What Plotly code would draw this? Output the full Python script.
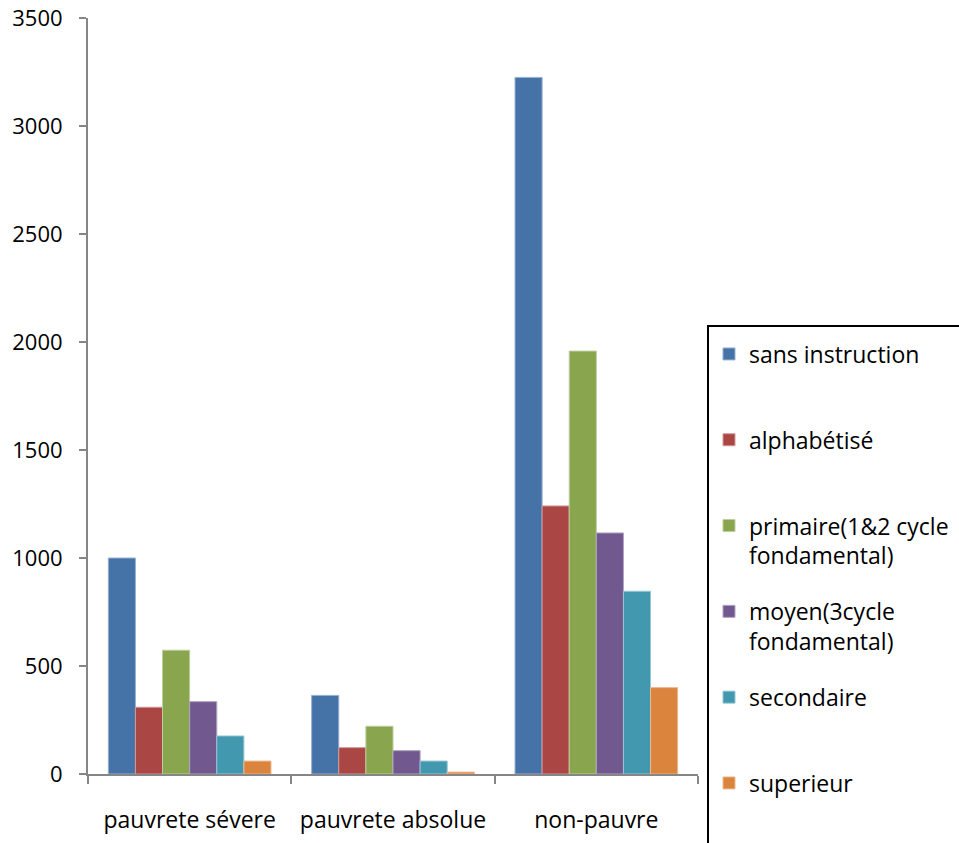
import plotly.graph_objects as go

# Poverty status groups (x axis)
categories = ["pauvrete sévere", "pauvrete absolue", "non-pauvre"]

# Level of education (one bar series each)
series_names = [
    "sans instruction",
    "alphabétisé",
    "primaire(1&2 cycle fondamental)",
    "moyen(3cycle fondamental)",
    "secondaire",
    "superieur",
]
sans_instruction = [1000, 364, 3225]
alphabetise = [309, 122, 1241]
primaire = [573, 221, 1958]
moyen = [335, 108, 1116]
secondaire = [176, 60, 846]
superieur = [60, 9, 400]

y_ticks = [0, 500, 1000, 1500, 2000, 2500, 3000, 3500]

values = [sans_instruction, alphabetise, primaire, moyen, secondaire, superieur]
colors = ["#4572A7", "#AA4643", "#89A54E", "#71588F", "#4198AF", "#DB843D"]

# legend text: every entry takes two lines so the entries stay evenly spaced
legend_text = [
    "sans instruction<br> ",
    "alphabétisé<br> ",
    "primaire(1&2 cycle<br>fondamental)",
    "moyen(3cycle<br>fondamental)",
    "secondaire<br> ",
    "superieur<br> ",
]


def tint(hex_color, amount):
    h = hex_color.lstrip("#")
    r, g, b = (int(h[i:i + 2], 16) for i in (0, 2, 4))
    r, g, b = (round(c + (255 - c) * amount) for c in (r, g, b))
    return f"rgb({r},{g},{b})"


FONT = "Open Sans"
AXIS_GREY = "#868686"

fig = go.Figure()
for name, label, vals, col in zip(series_names, legend_text, values, colors):
    fig.add_trace(
        go.Bar(
            x=categories,
            y=vals,
            name=label,
            legendgroup=name,
            marker=dict(color=col, line=dict(color=tint(col, 0.45), width=1)),
            hovertemplate=name + "<br>%{x}: %{y}<extra></extra>",
        )
    )

W, H = 959, 843
L, R, T, B = 88, 261, 18, 69
plot_w = W - L - R
plot_h = H - T - B

fig.update_layout(
    width=W,
    height=H,
    margin=dict(l=L, r=R, t=T, b=B, autoexpand=False),
    paper_bgcolor="white",
    plot_bgcolor="white",
    barmode="group",
    bargap=0.2,
    bargroupgap=0,
    font=dict(family=FONT, size=22, color="black"),
    showlegend=True,
    legend=dict(
        x=(709 - L) / plot_w,
        y=(H - B - 332.5) / plot_h,
        xanchor="left",
        yanchor="top",
        traceorder="grouped",
        tracegroupgap=23,
        valign="top",
        borderwidth=0,
        bgcolor="rgba(0,0,0,0)",
        font=dict(family=FONT, size=23, color="black"),
    ),
    xaxis=dict(
        type="category",
        showline=True,
        linecolor=AXIS_GREY,
        linewidth=2,
        ticks="outside",
        tickson="boundaries",
        ticklen=8,
        tickwidth=2,
        tickcolor=AXIS_GREY,
        showgrid=False,
        zeroline=False,
        ticklabelstandoff=24,
        tickfont=dict(family=FONT, size=23, color="black"),
    ),
    yaxis=dict(
        range=[0, 3500],
        tickvals=y_ticks,
        ticktext=[str(v) for v in y_ticks],
        showline=True,
        linecolor=AXIS_GREY,
        linewidth=2,
        ticks="outside",
        ticklen=7,
        tickwidth=2,
        tickcolor=AXIS_GREY,
        showgrid=False,
        zeroline=False,
        ticklabelstandoff=12,
        tickfont=dict(family=FONT, size=22, color="black"),
    ),
)

# legend frame, running past the right and bottom page edges
fig.add_shape(
    type="rect",
    xref="paper",
    yref="paper",
    x0=(708 - L) / plot_w,
    x1=1.6,
    y0=(H - B - 326) / plot_h,
    y1=-0.3,
    line=dict(color="black", width=2),
    fillcolor="rgba(0,0,0,0)",
    layer="above",
)

fig.write_html("out.html")
